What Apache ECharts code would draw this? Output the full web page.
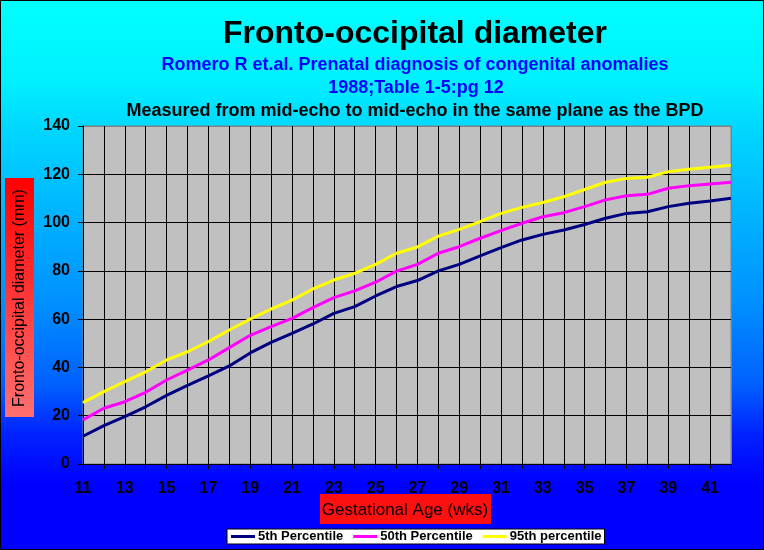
<!DOCTYPE html>
<html>
<head>
<meta charset="utf-8">
<script src="https://cdn.jsdelivr.net/npm/echarts@6/dist/echarts.min.js"></script>
<style>html,body{margin:0;padding:0;background:#0000ff;}#c{width:764px;height:550px;}</style>
</head>
<body>
<div id="c"></div>
<script>
var weeks = ['11','12','13','14','15','16','17','18','19','20','21','22','23','24','25','26','27','28','29','30','31','32','33','34','35','36','37','38','39','40','41','42'];
var p5  = [11.5,15.9,19.6,23.7,28.4,32.6,36.5,40.6,46.0,50.4,54.1,58.0,62.4,65.2,69.6,73.5,76.0,80.0,82.7,86.2,89.6,92.8,95.1,96.9,99.2,101.8,103.8,104.5,106.6,108.0,108.9,110.1];
var p50 = [18.3,23.1,25.8,29.7,34.8,38.9,43.1,48.2,53.3,56.9,60.3,64.8,68.9,71.7,75.3,79.9,82.7,87.3,90.0,93.5,96.7,99.7,102.4,104.1,106.6,109.4,111.1,111.7,114.2,115.3,116.0,116.7];
var p95 = [25.4,30.0,34.1,38.2,43.1,46.5,50.7,55.5,60.0,64.2,67.9,72.5,76.2,79.0,82.7,87.3,89.9,94.4,97.2,100.4,103.8,106.3,108.3,110.7,113.7,116.7,118.3,118.8,121.1,122.1,122.9,123.7];
var seriesNames = ['5th Percentile','50th Percentile','95th percentile'];
var titleText = 'Fronto-occipital diameter';
var sub1 = 'Romero R et.al. Prenatal diagnosis of congenital anomalies';
var sub2 = '1988;Table 1-5:pg 12';
var sub3 = 'Measured from mid-echo to mid-echo in the same plane as the BPD';
var yName = 'Fronto-occipital diameter (mm)';
var xName = 'Gestational Age (wks)';

var FF = '"Liberation Sans", Arial, sans-serif';
var xSplitColors = weeks.map(function(w, i){ return i === weeks.length - 1 ? '#808080' : '#000000'; });
var ySplitColors = ['#000','#000','#000','#000','#000','#000','#000','#808080'];

var chart = echarts.init(document.getElementById('c'), null, {renderer: 'canvas'});
chart.setOption({
  animation: false,
  backgroundColor: new echarts.graphic.LinearGradient(0, 0, 0, 1, [
    {offset: 0, color: '#00FFFF'},
    {offset: 0.15, color: '#00F0FF'},
    {offset: 0.23, color: '#00D8FF'},
    {offset: 0.55, color: '#0090FF'},
    {offset: 0.70, color: '#0060FF'},
    {offset: 0.79, color: '#0022FF'},
    {offset: 0.88, color: '#0000FF'},
    {offset: 1, color: '#0000FF'}
  ]),
  grid: {left: 83, right: 33, top: 126, bottom: 86, show: true, backgroundColor: '#C0C0C0', borderColor: '#808080', borderWidth: 1},
  legend: {
    left: 227, top: 529, orient: 'horizontal',
    backgroundColor: '#FFFFFF', borderColor: '#000000', borderWidth: 1, borderRadius: 0,
    padding: [1, 3, 1, 4], itemGap: 10, itemWidth: 24, itemHeight: 3, icon: 'rect',
    textStyle: {fontFamily: FF, fontSize: 13, fontWeight: 'bold', color: '#000', padding: [0,0,0,-2]},
    data: seriesNames
  },
  xAxis: {
    type: 'category', data: weeks, boundaryGap: false,
    axisLine: {lineStyle: {color: '#000', width: 1}},
    axisTick: {show: true, interval: 0, length: 5, lineStyle: {color: '#000'}},
    axisLabel: {interval: 1, margin: 17, fontFamily: FF, fontSize: 16, fontWeight: 'bold', color: '#000'},
    splitLine: {show: true, interval: 0, lineStyle: {color: xSplitColors, width: 1}}
  },
  yAxis: {
    type: 'value', min: 0, max: 140, interval: 20,
    axisLine: {show: true, lineStyle: {color: '#000', width: 1}},
    axisTick: {show: true, length: 5, lineStyle: {color: '#000'}},
    axisLabel: {margin: 13, fontFamily: FF, fontSize: 16, fontWeight: 'bold', color: '#000'},
    splitLine: {show: true, lineStyle: {color: ySplitColors, width: 1}}
  },
  series: [
    {name: seriesNames[0], type: 'line', data: p5, showSymbol: false, symbol: 'none', color: '#000080', lineStyle: {color: '#000080', width: 3}},
    {name: seriesNames[1], type: 'line', data: p50, showSymbol: false, symbol: 'none', color: '#FF00FF', lineStyle: {color: '#FF00FF', width: 3}},
    {name: seriesNames[2], type: 'line', data: p95, showSymbol: false, symbol: 'none', color: '#FFFF00', lineStyle: {color: '#FFFF00', width: 3}}
  ],
  graphic: [
    {type: 'text', x: 415, y: 34, style: {text: titleText, font: 'bold 32px ' + FF, fill: '#000', textAlign: 'center', textVerticalAlign: 'middle'}},
    {type: 'text', x: 415, y: 65, style: {text: sub1, font: 'bold 18px ' + FF, fill: '#0000FF', textAlign: 'center', textVerticalAlign: 'middle'}},
    {type: 'text', x: 416, y: 88, style: {text: sub2, font: 'bold 18px ' + FF, fill: '#0000FF', textAlign: 'center', textVerticalAlign: 'middle'}},
    {type: 'text', x: 415, y: 111, style: {text: sub3, font: 'bold 18px ' + FF, fill: '#000', textAlign: 'center', textVerticalAlign: 'middle'}},
    {type: 'rect', shape: {x: 5, y: 178, width: 29, height: 239}, style: {fill: new echarts.graphic.LinearGradient(0, 0, 0, 1, [{offset: 0, color: '#FF0000'}, {offset: 1, color: '#FF7070'}])}},
    {type: 'text', x: 20, y: 298, rotation: Math.PI / 2, style: {text: yName, font: '16px ' + FF, fill: '#000', textAlign: 'center', textVerticalAlign: 'middle'}},
    {type: 'rect', shape: {x: 320, y: 494, width: 171, height: 30}, style: {fill: '#FF1010'}},
    {type: 'text', x: 405, y: 510, style: {text: xName, font: '17px ' + FF, fill: '#000', textAlign: 'center', textVerticalAlign: 'middle'}},
    {type: 'rect', shape: {x: 0.5, y: 0.5, width: 763, height: 549}, style: {fill: 'none', stroke: '#000', lineWidth: 1}, z: 100}
  ]
});
</script>
</body>
</html>
